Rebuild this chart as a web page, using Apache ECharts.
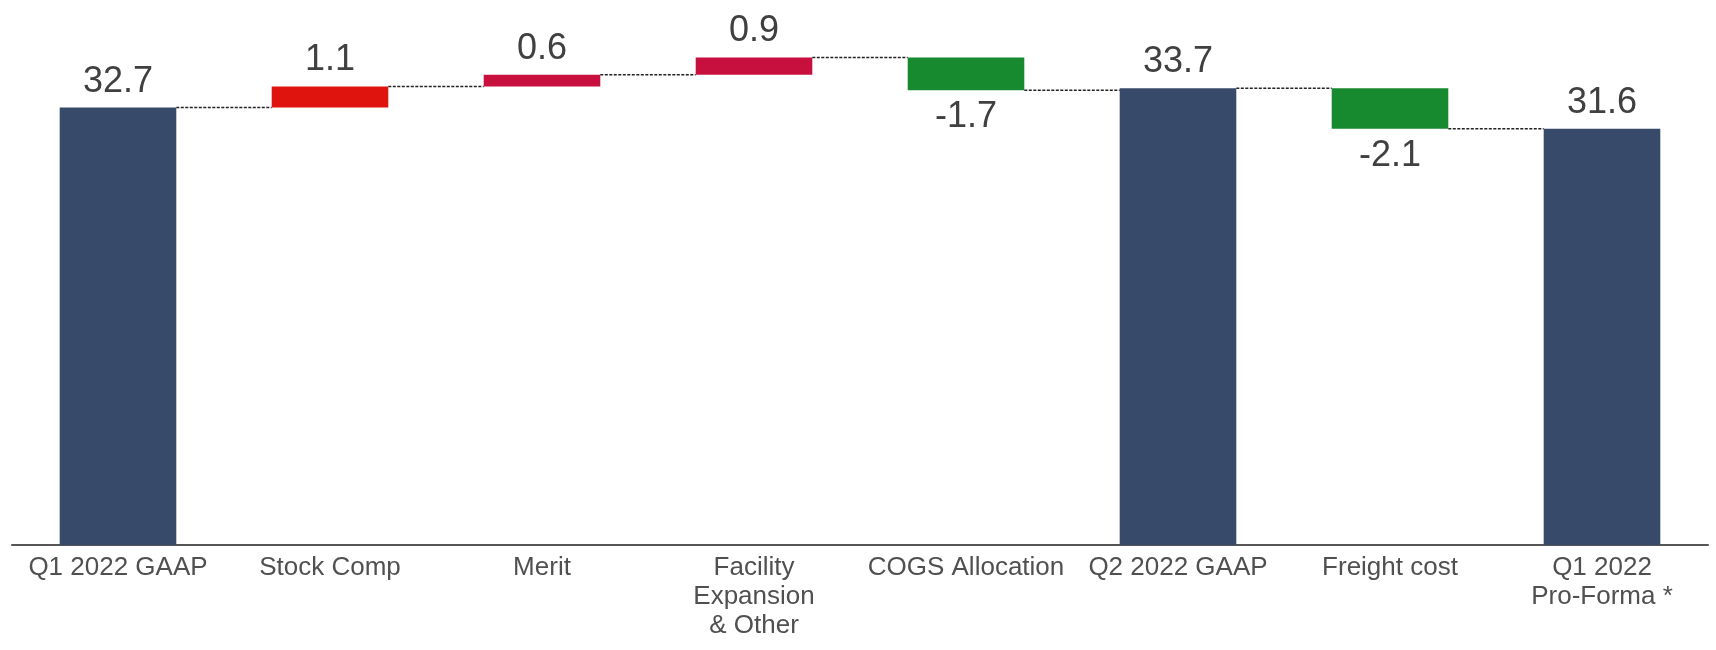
<!DOCTYPE html>
<html>
<head>
<meta charset="utf-8">
<script src="https://cdn.jsdelivr.net/npm/echarts@6/dist/echarts.min.js"></script>
<style>
  html, body { margin: 0; padding: 0; background: #ffffff; }
  #chart { width: 1716px; height: 650px; }
</style>
</head>
<body>
<div id="chart"></div>
<script>
// Operating expense bridge, Q1 2022 GAAP -> Q2 2022 GAAP -> Q1 2022 Pro-Forma
const categories = [
  'Q1 2022 GAAP',
  'Stock Comp',
  'Merit',
  'Facility\nExpansion\n& Other',
  'COGS Allocation',
  'Q2 2022 GAAP',
  'Freight cost',
  'Q1 2022\nPro-Forma *'
];
const values = [32.7, 1.1, 0.6, 0.9, -1.7, 33.7, -2.1, 31.6];
const isTotal = [true, false, false, false, false, true, false, true];

// Styling
const NAVY = '#374a6a', RED = '#e0140e', CRIMSON = '#c8103e', GREEN = '#17892f';
const barColors = [NAVY, RED, CRIMSON, CRIMSON, GREEN, NAVY, GREEN, NAVY];
const FONT = '"Liberation Sans", Arial, sans-serif';
const AXIS_MIN = 10, AXIS_MAX = 36;

// Each bar: [index, low, high, change, running total after this bar]
let running = 0;
const segments = values.map((v, i) => {
  if (isTotal[i]) {
    running = v;
    return [i, AXIS_MIN, v, v, running];
  }
  const start = running;
  running = Math.round((running + v) * 100) / 100;
  return [i, Math.min(start, running), Math.max(start, running), v, running];
});

function renderBar(params, api) {
  const i = api.value(0);
  const lo = api.value(1);
  const hi = api.value(2);
  const v = api.value(3);
  const end = api.value(4);
  const band = api.size([1, 0])[0];
  const w = band * 0.55;
  const pTop = api.coord([i, hi]);
  const pBot = api.coord([i, lo]);
  const x = pTop[0] - w / 2;
  const children = [
    {
      type: 'rect',
      shape: { x: x, y: pTop[1], width: w, height: pBot[1] - pTop[1] },
      style: { fill: barColors[i] }
    },
    {
      type: 'text',
      style: {
        text: v.toFixed(1),
        x: pTop[0],
        y: v < 0 ? pBot[1] + 9 : pTop[1] - 8,
        align: 'center',
        verticalAlign: v < 0 ? 'top' : 'bottom',
        font: '36px ' + FONT,
        fill: '#404040'
      }
    }
  ];
  if (i < values.length - 1) {
    const yc = api.coord([i, end])[1];
    children.push({
      type: 'line',
      shape: { x1: x + w, y1: yc, x2: pTop[0] + band - w / 2, y2: yc },
      style: { stroke: '#222222', lineWidth: 1.5, lineDash: [3, 1.5] }
    });
  }
  return { type: 'group', children: children };
}

const chart = echarts.init(document.getElementById('chart'));
chart.setOption({
  animation: false,
  backgroundColor: '#ffffff',
  grid: { left: 12, right: 8, top: 44, bottom: 105 },
  xAxis: {
    type: 'category',
    data: categories,
    boundaryGap: true,
    axisTick: { show: false },
    axisLine: { lineStyle: { color: '#555555', width: 2 } },
    axisLabel: {
      interval: 0,
      margin: 8,
      fontSize: 26,
      lineHeight: 29,
      fontFamily: FONT,
      color: '#505050',
      align: 'center'
    }
  },
  yAxis: {
    type: 'value',
    min: AXIS_MIN,
    max: AXIS_MAX,
    show: false,
    splitLine: { show: false }
  },
  series: [{
    type: 'custom',
    renderItem: renderBar,
    clip: false,
    encode: { x: 0, y: [1, 2] },
    data: segments
  }]
});
</script>
</body>
</html>
